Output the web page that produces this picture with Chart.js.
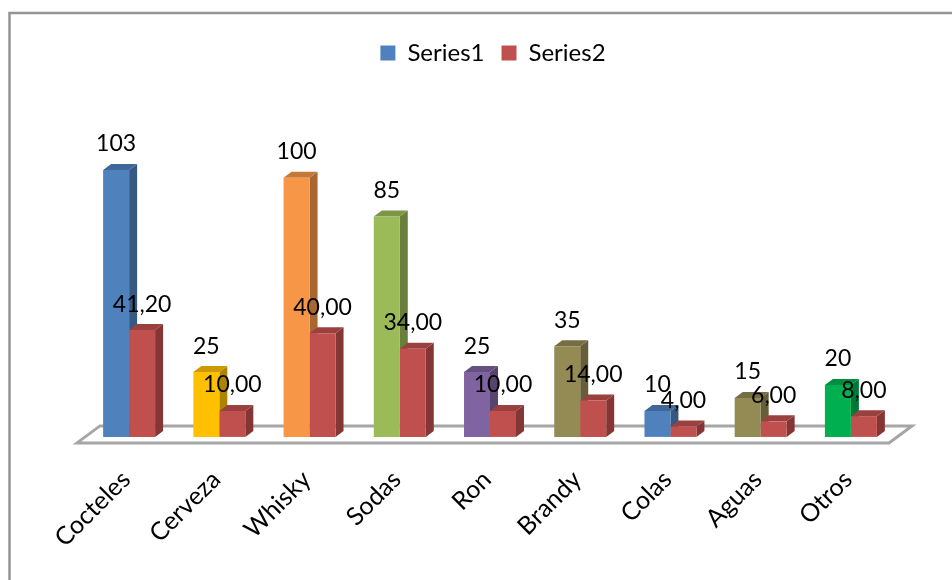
<!DOCTYPE html>
<html>
<head>
<meta charset="utf-8">
<title>Bebidas</title>
<script src="https://cdn.jsdelivr.net/npm/chart.js@4"></script>
<style>
  html, body { margin: 0; background: #fff; }
  canvas { display: block; }
</style>
</head>
<body>
<canvas id="chart" width="952" height="580"></canvas>
<script>
const categories = ['Cocteles', 'Cerveza', 'Whisky', 'Sodas', 'Ron', 'Brandy', 'Colas', 'Aguas', 'Otros'];
const series1 = [103, 25, 100, 85, 25, 35, 10, 15, 20];
const series2 = [41.2, 10, 40, 34, 10, 14, 4, 6, 8];
const series1Colors = ['#4f81bd', '#ffc000', '#f79646', '#9bbb59', '#8064a2', '#948a54', '#4f81bd', '#948a54', '#00b050'];
const series2Color = '#c0504d';

const FONT = 'Lato, "Open Sans", sans-serif';
const DEPTH_X = 8;
const DEPTH_Y = 6;

function shade(hex, k) {
  const n = parseInt(hex.slice(1), 16);
  const c = [n >> 16, (n >> 8) & 255, n & 255].map(v => Math.round(v * k));
  return `rgb(${c[0]},${c[1]},${c[2]})`;
}

function face(ctx, pts, color) {
  ctx.beginPath();
  pts.forEach((p, i) => i ? ctx.lineTo(p[0], p[1]) : ctx.moveTo(p[0], p[1]));
  ctx.closePath();
  ctx.fillStyle = color;
  ctx.fill();
}

// outer frame, only left and top are on the page
const framePlugin = {
  id: 'frame',
  beforeDraw(chart) {
    const ctx = chart.ctx;
    ctx.save();
    ctx.strokeStyle = '#959595';
    ctx.lineWidth = 2.5;
    ctx.beginPath();
    ctx.moveTo(9.5, 580);
    ctx.lineTo(9.5, 13);
    ctx.lineTo(952, 13);
    ctx.stroke();
    ctx.restore();
  }
};

// nudge the legend right of the plot centre
const legendShiftPlugin = {
  id: 'legendShift',
  afterLayout(chart) {
    chart.legend.left += 3;
    chart.legend.right += 3;
  }
};

// the floor the bars stand on
const floorPlugin = {
  id: 'floor',
  beforeDatasetsDraw(chart) {
    const { ctx, scales } = chart;
    const base = scales.y.getPixelForValue(0);
    const l = scales.x.left, r = scales.x.right;
    ctx.save();
    ctx.strokeStyle = '#a6a6a6';
    ctx.lineWidth = 3;
    ctx.beginPath();
    ctx.moveTo(l - 7, base + 6);
    ctx.lineTo(r - 7, base + 6);
    ctx.lineTo(r + 16, base - 11);
    ctx.lineTo(l + 16, base - 11);
    ctx.closePath();
    ctx.stroke();
    ctx.restore();
  }
};

// side and top faces go down before any flat bar, series 1 first so series 2 sits in front of it
const depthPlugin = {
  id: 'depth',
  beforeDatasetsDraw(chart) {
    const ctx = chart.ctx;
    chart.data.datasets.forEach((ds, d) => {
      chart.getDatasetMeta(d).data.forEach((bar, i) => {
        const color = Array.isArray(ds.backgroundColor) ? ds.backgroundColor[i] : ds.backgroundColor;
        const x0 = bar.x - bar.width / 2, x1 = bar.x + bar.width / 2;
        face(ctx, [[x1, bar.y], [x1 + DEPTH_X, bar.y - DEPTH_Y], [x1 + DEPTH_X, bar.base - DEPTH_Y], [x1, bar.base]], shade(color, 0.68));
        face(ctx, [[x0, bar.y], [x0 + DEPTH_X, bar.y - DEPTH_Y], [x1 + DEPTH_X, bar.y - DEPTH_Y], [x1, bar.y]], shade(color, 0.8));
      });
    });
  }
};

// value labels, series 2 with two decimals and a comma
const valuePlugin = {
  id: 'values',
  afterDatasetsDraw(chart) {
    const ctx = chart.ctx;
    ctx.save();
    ctx.font = '23px ' + FONT;
    ctx.fillStyle = '#000';
    ctx.textAlign = 'center';
    ctx.textBaseline = 'middle';
    [0, 1].forEach(d => {
      chart.getDatasetMeta(d).data.forEach((bar, i) => {
        const v = chart.data.datasets[d].data[i];
        const txt = d === 0 ? String(v) : v.toFixed(2).replace('.', ',');
        ctx.fillText(txt, bar.x, bar.y - 26);
      });
    });
    ctx.restore();
  }
};

new Chart(document.getElementById('chart'), {
  type: 'bar',
  data: {
    labels: categories,
    datasets: [
      { label: 'Series1', data: series1, backgroundColor: series1Colors },
      { label: 'Series2', data: series2, backgroundColor: series2Color }
    ]
  },
  plugins: [framePlugin, legendShiftPlugin, floorPlugin, depthPlugin, valuePlugin],
  options: {
    responsive: false,
    animation: false,
    categoryPercentage: 0.576,
    barPercentage: 1,
    layout: { padding: { left: 84, right: 56, top: 24, bottom: 7 } },
    plugins: {
      tooltip: { enabled: false },
      legend: {
        position: 'top',
        labels: {
          color: '#000',
          font: { family: FONT, size: 24 },
          boxWidth: 15,
          boxHeight: 15,
          padding: 17,
          generateLabels() {
            return [
              { text: 'Series1', fillStyle: series1Colors[0], strokeStyle: series1Colors[0], lineWidth: 0, datasetIndex: 0 },
              { text: 'Series2', fillStyle: series2Color, strokeStyle: series2Color, lineWidth: 0, datasetIndex: 1 }
            ];
          }
        }
      }
    },
    scales: {
      x: {
        offset: true,
        grid: { display: false },
        border: { display: false },
        ticks: {
          color: '#000',
          font: { family: FONT, size: 25 },
          minRotation: 45,
          maxRotation: 45,
          autoSkip: false,
          labelOffset: -3,
          padding: 20
        }
      },
      y: {
        display: false,
        min: 0,
        max: 139.6
      }
    }
  }
});
</script>
</body>
</html>
